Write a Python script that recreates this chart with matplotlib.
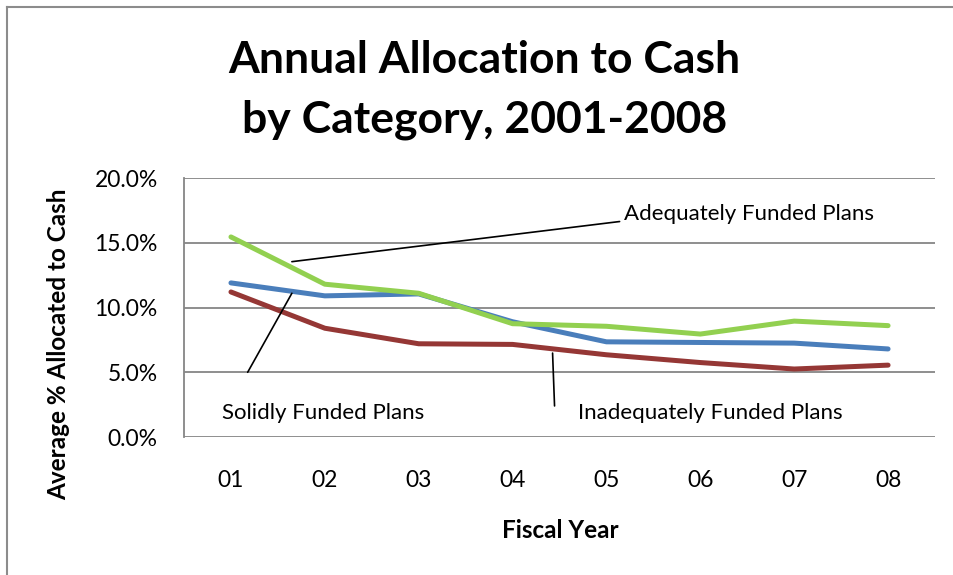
import matplotlib
matplotlib.use('Agg')
import matplotlib.pyplot as plt
from matplotlib.lines import Line2D

plt.rcParams['font.family'] = ['Lato', 'DejaVu Sans']

# Average % of assets allocated to cash, fiscal years 2001-2008
anos = ['01', '02', '03', '04', '05', '06', '07', '08']
solidos = [11.9, 10.9, 11.05, 8.9, 7.35, 7.3, 7.25, 6.8]
adequados = [15.45, 11.8, 11.1, 8.75, 8.55, 7.95, 8.95, 8.6]
inadequados = [11.2, 8.4, 7.2, 7.15, 6.35, 5.75, 5.25, 5.55]

cor_azul = '#4A7EBB'
cor_verde = '#92D050'
cor_vermelho = '#953735'
cor_grade = '#868686'

fig = plt.figure(figsize=(9.54, 5.75), dpi=100)
ax = fig.add_axes([0.1929, 0.24, 0.7872, 0.4504])

x = range(len(anos))
ax.plot(x, solidos, color=cor_azul, lw=3.6, solid_capstyle='round', solid_joinstyle='round', zorder=3)
ax.plot(x, inadequados, color=cor_vermelho, lw=3.6, solid_capstyle='round', solid_joinstyle='round', zorder=3)
ax.plot(x, adequados, color=cor_verde, lw=3.6, solid_capstyle='round', solid_joinstyle='round', zorder=4)

ax.set_xlim(-0.5, 7.5)
ax.set_ylim(0, 20)
ax.set_yticks([0, 5, 10, 15, 20])
ax.set_yticklabels(['%.1f%%' % v for v in [0, 5, 10, 15, 20]])
ax.set_xticks(list(x))
ax.set_xticklabels(anos)
ax.tick_params(axis='both', length=0, labelsize=16.5, colors='black')
ax.tick_params(axis='y', pad=19)
ax.tick_params(axis='x', pad=24)

ax.grid(axis='y', color=cor_grade, lw=1.3)
ax.set_axisbelow(True)
for lado in ['top', 'right', 'bottom']:
    ax.spines[lado].set_visible(False)
ax.spines['left'].set_color(cor_grade)
ax.spines['left'].set_linewidth(1.3)

# Rótulos das séries com linhas de chamada
chamada = dict(arrowstyle='-', color='black', lw=1.2, shrinkA=0, shrinkB=0)
ax.annotate('', xy=(0.649, 13.54), xytext=(4.14, 16.64), arrowprops=chamada)
ax.text(4.19, 17.25, 'Adequately Funded Plans', fontsize=16, va='center', ha='left')
ax.annotate('', xy=(0.649, 11.1), xytext=(0.178, 5.0), arrowprops=chamada)
ax.text(-0.096, 1.85, 'Solidly Funded Plans', fontsize=16, va='center', ha='left')
ax.annotate('', xy=(3.426, 6.48), xytext=(3.447, 2.4), arrowprops=chamada)
ax.text(3.70, 1.85, 'Inadequately Funded Plans', fontsize=16, va='center', ha='left')

fig.text(0.508, 1 - 90 / 575, 'Annual Allocation to Cash\nby Category, 2001-2008', fontsize=32,
         fontweight='bold', ha='center', va='center', linespacing=1.57)
fig.text(560 / 954, 1 - 531 / 575, 'Fiscal Year', fontsize=17.5, fontweight='bold',
         ha='center', va='center')
fig.text(59 / 954, 1 - 344 / 575, 'Average % Allocated to Cash', fontsize=17.5, fontweight='bold',
         ha='center', va='center', rotation=90)

# Borda do gráfico
fig.add_artist(Line2D([7 / 954, 7 / 954], [0, 1 - 7 / 575], color='#8c8c8c', lw=1.5))
fig.add_artist(Line2D([7 / 954, 1], [1 - 7 / 575, 1 - 7 / 575], color='#8c8c8c', lw=1.5))

fig.savefig('out.png', dpi=100)
